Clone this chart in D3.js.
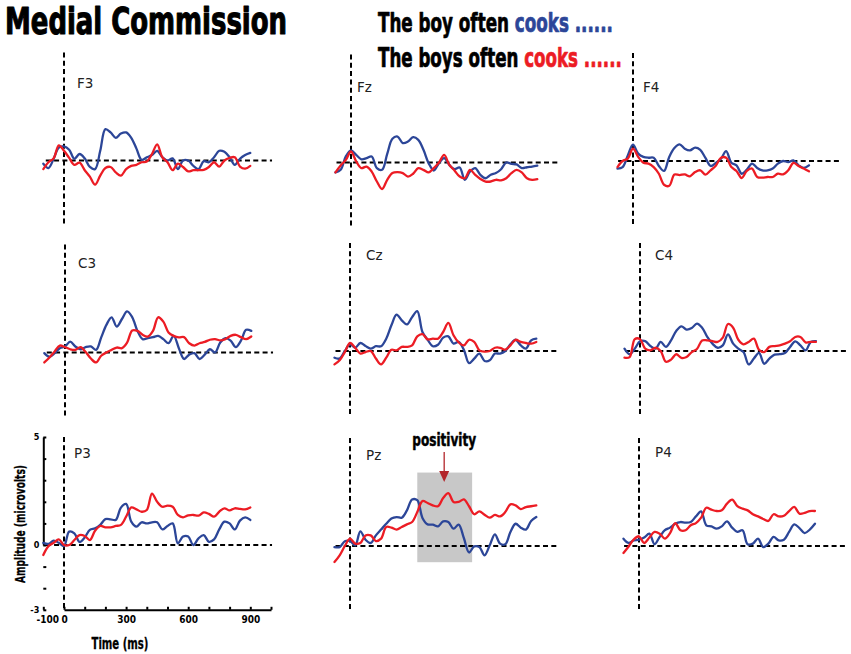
<!DOCTYPE html>
<html>
<head>
<meta charset="utf-8">
<script src="https://cdn.jsdelivr.net/npm/d3@7/dist/d3.min.js"></script>
<style>
html,body{margin:0;padding:0;background:#fff;}
svg{display:block;}
</style>
</head>
<body>
<svg id="chart" width="851" height="654"></svg>
<script>
// ================= DATA =================
const times1 = [-100,-75,-50,-25,0,25,50,75,100,125,150,175,200,225,250,275,300,325,350,375,400,425,450,475,500,525,550,575,600,625,650,675,700,725,750,775,800,825,850,875,900];
const times2 = [-75,-50,-25,0,25,50,75,100,125,150,175,200,225,250,275,300,325,350,375,400,425,450,475,500,525,550,575,600,625,650,675,700,725,750,775,800,825,850,875,900];
const times3 = [-75,-50,-25,0,25,50,75,100,125,150,175,200,225,250,275,300,325,350,375,400,425,450,475,500,525,550,575,600,625,650,675,700,725,750,775,800,825,850];

// microvolts, "The boy often cooks" (blue) and "The boys often cooks" (red)
const f3Blue = [-0.15,-0.35,0.08,0.6,0.65,0.5,0.08,0.3,0.1,-0.3,-0.4,0.45,1.45,1.3,1.05,1.25,1.3,1.05,0.55,0.03,0.15,0.25,0.45,0.15,0,0.1,-0.4,0,0,-0.25,-0.4,-0.03,-0.08,0.15,0.45,0.4,0.15,-0.2,0.08,0.25,0.35];
const f3Red  = [-0.4,-0.08,0.1,0.7,0.45,0.12,-0.2,-0.1,-0.45,-0.75,-1.12,-0.7,-0.35,-0.3,-0.55,-0.7,-0.4,-0.25,-0.2,-0.08,-0.05,0.3,0.75,0.15,-0.08,-0.45,-0.15,-0.3,-0.5,-0.45,-0.45,-0.43,-0.3,-0.08,-0.28,0,0.12,0.15,-0.28,-0.38,-0.25];
const fzBlue = [-0.46,-0.34,0.28,0.56,0.35,0.15,0.2,0.28,-0.26,-0.34,0.4,1.1,1.2,0.9,0.97,1.17,1.05,0.59,-0.03,-0.37,-0.03,0.2,-0.11,-0.31,-0.23,-0.8,-0.42,-0.26,-0.57,-0.73,-0.57,-0.49,-0.31,0,-0.06,-0.09,-0.26,-0.22,-0.19,-0.15];
const fzRed  = [-0.46,-0.14,0.12,0.51,0.05,-0.26,-0.19,-0.42,-0.88,-1.23,-0.8,-0.49,-0.45,-0.49,-0.65,-0.52,-0.26,-0.34,-0.46,-0.26,0,0.35,-0.11,-0.37,-0.65,-0.73,-0.34,-0.57,-0.76,-0.88,-0.88,-0.8,-0.83,-0.73,-0.49,-0.34,-0.46,-0.73,-0.8,-0.77];
const f4Blue = [-0.35,-0.28,0.26,0.76,0.34,0.19,0.15,0.15,-0.23,-0.46,0.19,0.6,0.77,0.57,0.49,0.62,0.52,0.14,-0.23,-0.09,0.11,0.46,-0.08,-0.2,-0.59,-0.4,-0.12,-0.32,-0.43,-0.43,-0.35,-0.12,0,-0.05,0.03,-0.2,-0.32,-0.2];
const f4Red  = [-0.28,0,0.11,0.57,0.19,-0.08,-0.12,-0.28,-0.59,-1.1,-1.15,-0.63,-0.65,-0.62,-0.71,-0.51,-0.43,-0.63,-0.43,-0.22,0.15,0.15,-0.28,-0.46,-0.79,-0.46,-0.35,-0.74,-0.77,-0.74,-0.74,-0.59,-0.62,-0.43,-0.09,-0.23,-0.35,-0.48];
const c3Blue = [-0.03,-0.2,-0.03,0.2,0.28,0.5,0.28,0.15,0.25,0.28,0.12,0.7,1.28,1.63,1.2,1.55,1.9,1.63,1.0,0.62,0.66,0.71,0.77,0.62,0.43,0.77,0.2,-0.3,-0.1,-0.03,-0.3,-0.1,0.15,0,0.46,0.66,0.55,0.25,0.55,1.05,1.0];
const c3Red  = [-0.46,-0.23,0.05,0.32,0.25,0.15,0.12,0.25,0.02,-0.28,-0.46,-0.15,0,0.12,0.23,0.2,0.46,1.02,1.0,0.82,0.74,1.0,1.63,1.43,0.93,0.77,0.7,0.71,0.43,0.32,0.43,0.49,0.59,0.62,0.56,0.62,0.77,0.82,0.71,0.62,0.74];
const czBlue = [-0.31,-0.35,0,0.31,0.15,0.37,0.23,0.11,0.22,0.22,0.57,1.19,1.68,1.42,1.23,1.57,1.85,0.88,0.52,0.22,0.29,0.62,0.68,0.34,0.42,0.06,-0.56,-0.35,-0.12,-0.46,-0.43,-0.12,-0.12,0,0.31,0.52,0.26,0.11,0.49,0.57];
const czRed  = [-0.62,-0.43,-0.05,0.37,0.15,-0.12,-0.05,0,-0.35,-0.62,-0.31,0.06,0.03,0.19,0.19,0.26,0.68,0.78,0.54,0.57,0.57,0.88,1.3,0.73,0.4,0.26,0.52,0.42,0.03,-0.03,0,0.15,0.15,0.06,0.26,0.52,0.42,0.37,0.34,0.42];
const c4Blue = [0.11,-0.15,0.11,0.45,0.46,0.23,0.11,0.42,0.19,0.49,0.93,1.14,0.99,1.06,1.27,1.08,0.65,0.34,0.15,0.26,0.77,0.34,0.11,-0.05,-0.62,-0.35,-0.09,-0.59,-0.35,-0.17,-0.15,-0.09,0.19,0.45,0.26,0.03,0.42,0.46];
const c4Red  = [-0.31,-0.28,0.55,0.55,0.11,0.03,0.15,0,-0.5,-0.4,-0.15,-0.32,-0.28,-0.05,0.09,0.49,0.49,0.46,0.42,0.62,1.25,1.08,0.52,0.31,0.42,0.57,0.06,-0.05,0.19,0.23,0.26,0.34,0.45,0.65,0.65,0.4,0.42,0.42];
const p3Blue = [0.1,0.05,0.2,0.1,-0.05,0.62,0.54,0.14,0.35,0.7,0.77,0.93,1.2,1.19,1.16,1.73,1.9,1.08,0.85,1.05,1.0,1.05,1.05,0.72,0.88,1.0,0.08,0.39,0.39,0,0.31,0.46,0.15,0.26,0.72,1.08,1.0,0.72,1.13,1.28,1.16];
const p3Red  = [-0.46,-0.05,0.1,0.26,0,0,0.23,0.46,0.42,0.23,0.66,0.88,0.82,0.82,0.88,0.93,1.31,1.74,1.65,1.54,1.62,2.38,2.0,1.77,1.82,1.77,1.39,1.28,1.37,1.39,1.36,1.51,1.44,1.31,1.54,1.7,1.6,1.7,1.67,1.65,1.74];
const pzBlue = [-0.05,-0.05,0.22,0.23,0.03,0.68,0.29,0.14,0.49,0.76,1.03,1.27,1.34,1.31,1.65,2.15,2.12,1.3,1.0,0.99,0.91,1.14,1.11,0.8,0.99,0.37,-0.3,-0.02,-0.05,-0.43,0.03,0.54,0.11,0.08,0.65,1.03,0.85,0.76,1.16,1.34];
const pzRed  = [-0.74,-0.43,0,0.34,0.11,0.14,0.49,0.49,0.23,0.34,0.88,0.85,0.76,0.88,1.0,1.11,1.57,2.08,1.99,1.88,1.84,2.22,2.45,2.04,2.04,2.16,1.84,1.47,1.6,1.45,1.31,1.44,1.37,1.57,1.93,1.88,1.71,1.8,1.84,1.88];
const p4Blue = [0.34,0.14,0.26,0.29,0.39,0.57,0.08,0.42,0.73,0.85,1.03,1.11,1.08,1.11,1.37,1.6,0.96,0.91,0.8,0.91,1.14,0.85,0.65,0.73,0.08,0.11,0.34,-0.05,0.11,0.42,0.26,0.29,0.65,1.0,0.83,0.6,0.76,1.03];
const p4Red  = [-0.32,-0.02,0.31,0.45,0.14,0.39,0.65,0.57,0.34,0.6,1.06,0.73,0.73,0.96,1.06,1.31,1.77,1.68,1.62,1.65,1.96,2.15,1.85,1.73,1.65,1.47,1.37,1.25,1.16,1.47,1.37,1.4,1.62,1.81,1.5,1.53,1.62,1.62];

const electrodes = ["F3","Fz","F4","C3","Cz","C4","P3","Pz","P4"];
const yTickValues = [-3,-2,-1,0,1,2,3,4,5];
const yTickLabels = [5,0,-3];
const xTickValues = [-100,0,100,200,300,400,500,600,700,800,900,1000];
const xTickLabels = [-100,0,300,600,900];
const titleText = "Medial Commission";
const legendParts = [
  [["The boy often ", "text"], ["cooks ......", "blue"]],
  [["The boys often ", "text"], ["cooks ......", "red"]]
];
const annotationText = "positivity";
const windowRange = [325, 590];      // ms, shaded window in Pz
const windowAmp = [-0.75, 3.4];      // microvolts
const xAxisTitle = "Time (ms)";
const yAxisTitle = "Amplitude (microvolts)";

const series = {
  F3:{t:times1, blue:f3Blue, red:f3Red}, Fz:{t:times2, blue:fzBlue, red:fzRed}, F4:{t:times3, blue:f4Blue, red:f4Red},
  C3:{t:times1, blue:c3Blue, red:c3Red}, Cz:{t:times2, blue:czBlue, red:czRed}, C4:{t:times3, blue:c4Blue, red:c4Red},
  P3:{t:times1, blue:p3Blue, red:p3Red}, Pz:{t:times2, blue:pzBlue, red:pzRed}, P4:{t:times3, blue:p4Blue, red:p4Red}
};

// ================= LAYOUT / STYLE =================
const COND = "'Liberation Sans Narrow','DejaVu Sans Condensed','Arial Narrow',sans-serif";
const LABELFONT = "'DejaVu Sans',Verdana,sans-serif";
const COLORS = {blue:"#2c4698", red:"#ec1c24", text:"#000"};
const PX_PER_SEC = 207, PX_PER_UV = 21.6;
const panelLayout = {
  F3:{x0:64,  y0:160.5, lx:77,  ly:88,  hs:-88},
  Fz:{x0:351, y0:162.5, lx:357, ly:92,  hs:-70},
  F4:{x0:633, y0:161,   lx:643, ly:92,  hs:-72},
  C3:{x0:65,  y0:352.5, lx:78,  ly:268, hs:-88},
  Cz:{x0:350, y0:351,   lx:366, ly:260, hs:-70},
  C4:{x0:640, y0:351,   lx:655, ly:260, hs:-72},
  P3:{x0:64,  y0:545,   lx:74,  ly:458, hs:-88},
  Pz:{x0:350, y0:546,   lx:366, ly:460, hs:-70},
  P4:{x0:639, y0:546,   lx:655, ly:457, hs:-72}
};

const svg = d3.select("#chart");

function fit(g, x, y, targetW, extra) {
  const w = g.select("text").node().getComputedTextLength();
  g.attr("transform", `translate(${x},${y})${extra||""} scale(${targetW / w},1)`);
}
function heavy(t, sw) {
  return t.attr("stroke-width", sw).attr("stroke-linejoin", "round").attr("paint-order", "fill");
}

// title
{
  const g = svg.append("g");
  heavy(g.append("text").attr("font-family", COND).attr("font-weight", "bold").attr("font-size", 38)
    .attr("fill", "#000").attr("stroke", "#000").text(titleText), 1.1);
  fit(g, 5, 33.5, 282);
}
// legend
const legendGeom = [{x:378, y:32, w:235}, {x:378, y:67, w:244}];
legendParts.forEach((parts, i) => {
  const g = svg.append("g");
  const t = g.append("text").attr("font-family", COND).attr("font-weight", "bold").attr("font-size", 26)
    .attr("xml:space", "preserve");
  parts.forEach(p => heavy(t.append("tspan").attr("fill", COLORS[p[1]]).attr("stroke", COLORS[p[1]]), 0.7).text(p[0]));
  fit(g, legendGeom[i].x, legendGeom[i].y, legendGeom[i].w);
});

const line = d3.line().curve(d3.curveCatmullRom.alpha(0.5));

electrodes.forEach(name => {
  const L = panelLayout[name], S = series[name];
  const x = d3.scaleLinear().domain([0, 1000]).range([L.x0, L.x0 + PX_PER_SEC]);
  const y = d3.scaleLinear().domain([0, 5]).range([L.y0, L.y0 - 5 * PX_PER_UV]);
  const g = svg.append("g").attr("class", "panel-" + name);

  if (name === "Pz") {
    g.append("rect")
      .attr("x", x(windowRange[0])).attr("width", x(windowRange[1]) - x(windowRange[0]))
      .attr("y", y(windowAmp[1])).attr("height", y(windowAmp[0]) - y(windowAmp[1]))
      .attr("fill", "#c8c8c8");
  }

  if (name === "P3") {
    const yAxis = d3.axisLeft(y).tickValues(yTickValues).tickSize(-3).tickSizeOuter(0).tickPadding(4)
      .tickFormat(d => yTickLabels.includes(d) ? d : "");
    const ya = g.append("g").attr("transform", `translate(${x(-100)},0)`).call(yAxis);
    const xAxis = d3.axisBottom(x).tickValues(xTickValues).tickSize(-3).tickSizeOuter(0).tickPadding(6)
      .tickFormat(d => xTickLabels.includes(d) ? d : "");
    const xa = g.append("g").attr("transform", `translate(0,${y(-3)})`).call(xAxis);
    [ya, xa].forEach(a => {
      a.select(".domain").attr("stroke", "#000").attr("stroke-width", 2);
      a.selectAll(".tick line").attr("stroke", "#000").attr("stroke-width", 2);
      a.selectAll(".tick text").attr("font-family", COND).attr("font-weight", "bold")
        .attr("font-size", 10).attr("fill", "#000");
    });
    ya.selectAll(".tick text").attr("font-size", 9).attr("dy", "0.3em");
    xa.selectAll(".tick text").filter(d => d === -100).attr("dx", 4);
    // axis titles
    const gx = svg.append("g");
    heavy(gx.append("text").attr("font-family", COND).attr("font-weight", "bold").attr("font-size", 16)
      .attr("stroke", "#000").attr("text-anchor", "middle").text(xAxisTitle), 0.3);
    fit(gx, 120, 649, 57);
    const gy = svg.append("g");
    heavy(gy.append("text").attr("font-family", COND).attr("font-weight", "bold").attr("font-size", 14)
      .attr("stroke", "#000").attr("text-anchor", "middle").text(yAxisTitle), 0.3);
    fit(gy, 25, 524, 118, " rotate(-90)");
  }

  // reference dashed lines
  g.append("line").attr("x1", x(L.hs)).attr("x2", x(1005)).attr("y1", y(0)).attr("y2", y(0))
    .attr("stroke", "#000").attr("stroke-width", 2).attr("stroke-dasharray", "5,3.3");
  g.append("line").attr("x1", x(0)).attr("x2", x(0)).attr("y1", y(5)).attr("y2", y(-3))
    .attr("stroke", "#000").attr("stroke-width", 2).attr("stroke-dasharray", "5,3.3");

  // electrode label
  g.append("text").attr("x", L.lx).attr("y", L.ly).attr("font-family", LABELFONT)
    .attr("font-size", 13.5).attr("fill", "#222").text(name);

  ["blue", "red"].forEach(c => {
    const pts = S[c].map((v, i) => [x(S.t[i]), y(v)]);
    g.append("path").attr("d", line(pts)).attr("fill", "none").attr("stroke", COLORS[c])
      .attr("stroke-width", 2.3).attr("stroke-linejoin", "round").attr("stroke-linecap", "round");
  });

  if (name === "Pz") {
    const ax = x(455);
    const ga = svg.append("g");
    heavy(ga.append("text").attr("font-family", COND).attr("font-weight", "bold").attr("font-size", 18)
      .attr("stroke", "#000").attr("text-anchor", "middle").text(annotationText), 0.5);
    fit(ga, ax, 446, 64);
    svg.append("line").attr("x1", ax).attr("x2", ax).attr("y1", 452).attr("y2", 473)
      .attr("stroke", "#b3262b").attr("stroke-width", 1.3);
    svg.append("path").attr("d", `M${ax - 5},471L${ax + 5},471L${ax},482Z`).attr("fill", "#b3262b");
  }
});
</script>
</body>
</html>
